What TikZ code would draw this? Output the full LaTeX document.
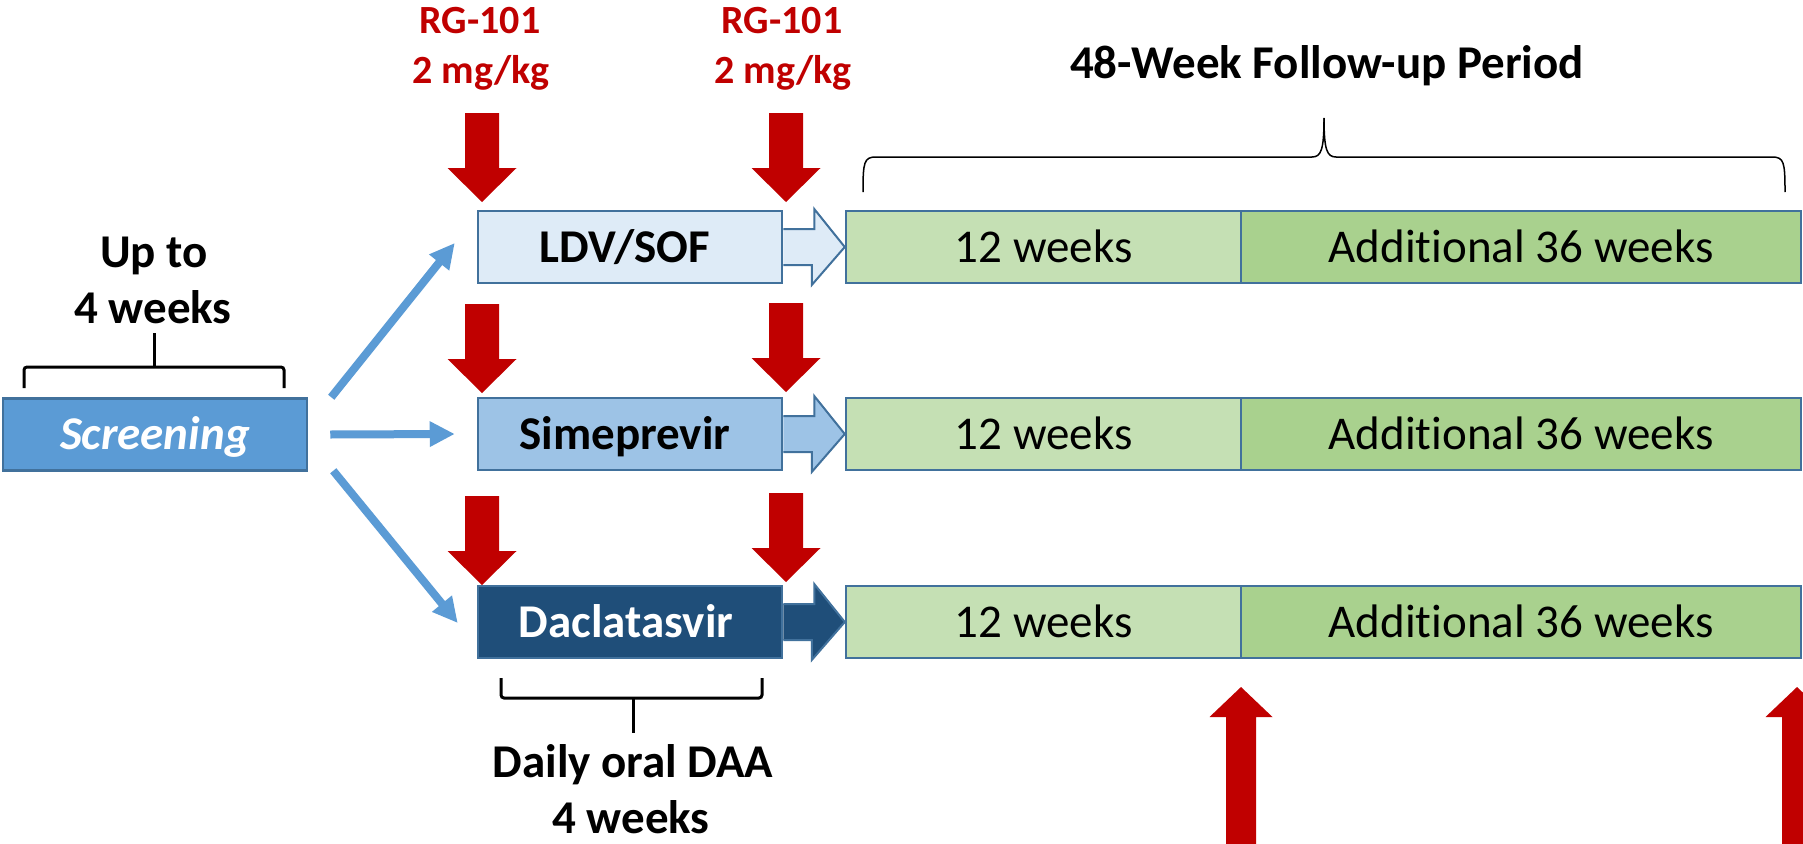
\documentclass[tikz,border=0pt]{standalone}
\usepackage{fontspec}
\setmainfont{Carlito}[Ligatures={NoCommon}]
\usetikzlibrary{arrows.meta}
\definecolor{rgred}{HTML}{C00000}
\definecolor{boxline}{HTML}{41719C}
\definecolor{scrc}{HTML}{5B9BD5}
\definecolor{ldvc}{HTML}{DEEBF7}
\definecolor{simc}{HTML}{9DC3E6}
\definecolor{dacc}{HTML}{1F4E79}
\definecolor{gla}{HTML}{C5E0B4}
\definecolor{glb}{HTML}{A9D18E}
\definecolor{blarr}{HTML}{5B9BD5}
\tikzset{
  pics/rdown/.style={code={\fill[rgred] (-17,-89) -- (17,-89) -- (17,-34) -- (34.5,-34) -- (0,0) -- (-34.5,-34) -- (-17,-34) -- cycle;}},
  pics/rup/.style={code={\fill[rgred] (-15,200) -- (15,200) -- (15,30) -- (31.5,30) -- (0,0) -- (-31.5,30) -- (-15,30) -- cycle;}},
}
\begin{document}
\begin{tikzpicture}[x=1pt,y=-1pt,
  drugbox/.style={draw=boxline, line width=2.5pt, minimum width=304pt, minimum height=72pt, inner sep=0pt, text height=30pt, text depth=0pt, font=\fontsize{47}{56}\bfseries\selectfont},
  greenbox/.style={draw=boxline, line width=2.5pt, minimum height=72pt, inner sep=0pt, text height=30pt, text depth=0pt, font=\fontsize{47}{56}\selectfont},
  blockarr/.style={draw=boxline, line width=2pt, line join=miter},
  bluearr/.style={draw=blarr, line width=8pt, -{Triangle[length=25pt, width=24pt]}},
  redtext/.style={text=rgred, anchor=base, inner sep=0pt, font=\fontsize{40}{49}\bfseries\selectfont},
  labeltext/.style={anchor=base, inner sep=0pt, font=\fontsize{47}{56}\bfseries\selectfont},
  bracket/.style={draw=black, line width=3pt, rounded corners=3pt},
]
\clip (0,0) rectangle (1803,843);
\fill[white] (0,0) rectangle (1803,843);

% screening and drug boxes
\node[drugbox, fill=scrc, text=white, font=\fontsize{47}{56}\bfseries\itshape\selectfont] (scr) at (155,434.5) {Screening};
\node[drugbox, fill=ldvc] (ldv) at (630,247) {LDV/SOF\kern10pt};
\node[drugbox, fill=simc] (sim) at (630,434) {Simeprevir\kern10pt};
\node[drugbox, fill=dacc, text=white] (dac) at (630,622) {Daclatasvir\kern8pt};

% follow-up boxes
\foreach \r/\yy in {1/247, 2/434, 3/622}{
  \node[greenbox, fill=gla, minimum width=395pt] (ga\r) at (1043.5,\yy) {12 weeks};
  \node[greenbox, fill=glb, minimum width=560pt] (gb\r) at (1521,\yy) {Additional 36 weeks};
}

% block arrows
\draw[blockarr, fill=ldvc] ([yshift=18pt]ldv.east) -- ++(31,0) -- ++(0,-20) -- (ga1.west) -- ++(-33,38) -- ++(0,-20) -- ([yshift=-18pt]ldv.east);
\draw[blockarr, fill=simc] ([yshift=18pt]sim.east) -- ++(31,0) -- ++(0,-20) -- (ga2.west) -- ++(-33,38) -- ++(0,-20) -- ([yshift=-18pt]sim.east);
\draw[blockarr, fill=dacc] ([yshift=18pt]dac.east) -- ++(31,0) -- ++(0,-20) -- (ga3.west) -- ++(-33,38) -- ++(0,-20) -- ([yshift=-18pt]dac.east);

% blue arrows
\draw[bluearr] ([xshift=23pt]scr.north east) -- ([xshift=-22pt,yshift=4pt]ldv.west);
\draw[bluearr] ([xshift=22pt]scr.east) -- ([xshift=-22pt]sim.west);
\draw[bluearr] ([xshift=25pt,yshift=1pt]scr.south east) -- ([xshift=-19pt,yshift=-1pt]dac.west);

% red dose arrows
\pic at (482,202) {rdown};
\pic at (786,202) {rdown};
\pic at (482,393) {rdown};
\pic at (786,392) {rdown};
\pic at (482,585) {rdown};
\pic at (786,582) {rdown};
\pic at (1241,687) {rup};
\pic at (1797,687) {rup};

% texts
\node[redtext] (rg1a) at (480,34) {RG-101};
\node[redtext] (rg1b) at (481,83) {2 mg/kg};
\node[redtext] (rg2a) at (782,34) {RG-101};
\node[redtext] (rg2b) at (783,83) {2 mg/kg};
\node[labeltext] (fu) at (1327,78) {48-Week Follow-up Period};
\node[labeltext] (upto1) at (154,267) {Up to};
\node[labeltext] (upto2) at (153,323) {4 weeks};
\node[labeltext] (daa1) at (633,777) {Daily oral DAA};
\node[labeltext] (daa2) at (631,833) {4 weeks};

% brackets
\draw[bracket] (24,388) -- (24,367) -- (284,367) -- (284,388);
\draw[line width=3pt] (154,368) -- (154,333);
\draw[bracket] (501,678) -- (501,698) -- (762,698) -- (762,678);
\draw[line width=3pt] (633,697) -- (633,733);
\draw[line width=1.5pt] (863,192) .. controls (863,162) and (864,157) .. (876,157) -- (1312,157) .. controls (1321,157) and (1324,150) .. (1324,118);
\draw[line width=1.5pt] (1785,192) .. controls (1785,162) and (1784,157) .. (1772,157) -- (1336,157) .. controls (1327,157) and (1324,150) .. (1324,118);
\end{tikzpicture}
\end{document}
